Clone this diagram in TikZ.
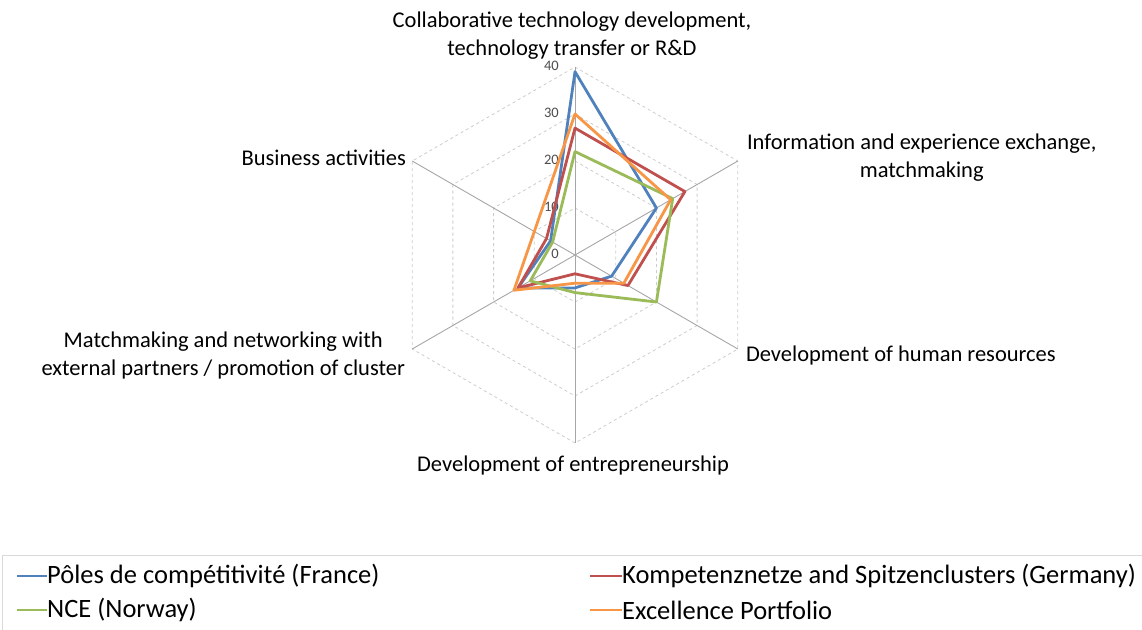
\documentclass[tikz,border=0pt]{standalone}
\usepackage{fontspec}
\setmainfont{Carlito}
\usetikzlibrary{positioning}
\definecolor{france}{HTML}{4F81BD}
\definecolor{germany}{HTML}{C0504D}
\definecolor{norway}{HTML}{9BBB59}
\definecolor{portfolio}{HTML}{F79646}
\begin{document}
\begin{tikzpicture}[x=1pt, y=1pt,
    axisline/.style={draw=black!35, line width=0.9pt},
    gridline/.style={draw=black!20, dashed, line width=0.8pt},
    series/.style={line width=2.8pt, line join=round},
    axislabel/.style={font=\fontsize{22.5}{28}\selectfont, align=center, inner sep=0pt},
    ticklabel/.style={font=\fontsize{14.5}{15}\selectfont, text=black!70, anchor=east, inner sep=0pt},
    legendtext/.style={font=\fontsize{26.5}{27}\selectfont, anchor=west, inner sep=0pt}]
  \useasboundingbox (0,-629) rectangle (1142,0);
  \begin{scope}[shift={(575pt,-255pt)}, x=4.7pt, y=4.7pt]
    % grid and axes
    \foreach \r in {10,20,30,40}
      \draw[gridline] (90:\r) -- (30:\r) -- (-30:\r) -- (-90:\r) -- (-150:\r) -- (150:\r) -- cycle;
    \coordinate (o) at (0,0);
    \coordinate (collab) at (90:40);
    \coordinate (info) at (30:40);
    \coordinate (human) at (-30:40);
    \coordinate (entre) at (-90:40);
    \coordinate (match) at (-150:40);
    \coordinate (business) at (150:40);
    \foreach \a in {collab,info,human,entre,match,business}
      \draw[axisline] (o) -- (\a);
    \foreach \v in {0,10,20,30,40}
      \node[ticklabel] (tick\v) at ([xshift=-16pt,yshift=1pt]90:\v) {\v};
    % series
    \draw[series, france] (90:39) -- (30:20) -- (-30:9) -- (-90:7) -- (-150:14) -- (150:6) -- cycle;
    \draw[series, germany] (90:27) -- (30:27) -- (-30:13) -- (-90:4) -- (-150:14) -- (150:7) -- cycle;
    \draw[series, norway] (90:22) -- (30:24) -- (-30:20) -- (-90:8) -- (-150:11) -- (150:5.5) -- cycle;
    \draw[series, portfolio] (90:30) -- (30:23.5) -- (-30:12) -- (-90:6) -- (-150:15) -- (150:10) -- cycle;
  \end{scope}
  % category labels
  \node[axislabel, above=7pt of collab, xshift=-3pt] (lab-collab) {Collaborative technology development,\\technology transfer or R\&D};
  \node[axislabel, right=9pt of info, yshift=3pt] (lab-info) {Information and experience exchange,\\matchmaking};
  \node[axislabel, right=8pt of human, yshift=-6pt] (lab-human) {Development of human resources};
  \node[axislabel, below=13pt of entre, xshift=-2pt] (lab-entre) {Development of entrepreneurship};
  \node[axislabel, left=7pt of match, yshift=-6pt] (lab-match) {Matchmaking and networking with\\external partners / promotion of cluster};
  \node[axislabel, left=6pt of business, yshift=3pt] (lab-business) {Business activities};
  % legend
  \draw[draw=black!15, line width=0.9pt] (2,-640) |- (1150,-555);
  \node[legendtext] (leg-france) at (47,-576) {Pôles de compétitivité (France)};
  \node[legendtext] (leg-germany) at (622,-576) {Kompetenznetze and Spitzenclusters (Germany)};
  \node[legendtext] (leg-norway) at (47,-610) {NCE (Norway)};
  \node[legendtext] (leg-portfolio) at (622,-610) {Excellence Portfolio};
  \coordinate (key-france) at (17,-576);
  \coordinate (key-germany) at (590,-576);
  \coordinate (key-norway) at (17,-610);
  \coordinate (key-portfolio) at (590,-610);
  \draw[series, france] (key-france) -- (leg-france.west);
  \draw[series, germany] (key-germany) -- (leg-germany.west);
  \draw[series, norway] (key-norway) -- (leg-norway.west);
  \draw[series, portfolio] (key-portfolio) -- (leg-portfolio.west);
\end{tikzpicture}
\end{document}
